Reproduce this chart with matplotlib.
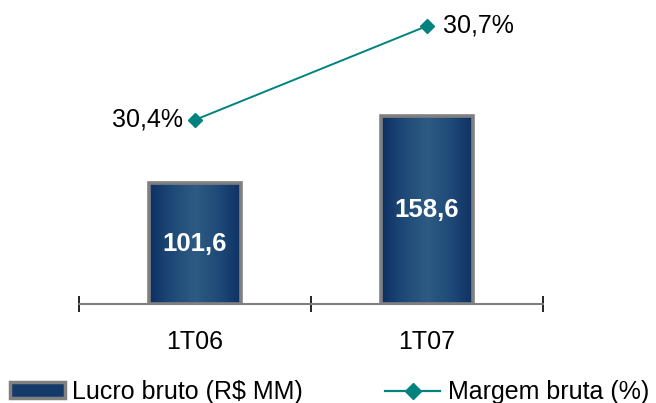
import numpy as np
import matplotlib
matplotlib.use('Agg')
import matplotlib.pyplot as plt
from matplotlib.colors import LinearSegmentedColormap
from matplotlib.patches import Patch
from matplotlib.lines import Line2D

plt.rcParams['font.family'] = ['Liberation Sans', 'DejaVu Sans']

periods = ['1T06', '1T07']
lucro_bruto = [101.6, 158.6]
margem_bruta = [30.4, 30.7]
bar_labels = ['101,6', '158,6']
margem_labels = ['30,4%', '30,7%']

navy_grad = LinearSegmentedColormap.from_list(
    'navy', ['#0c3061', '#1f4a78', '#2d5b83', '#1f4a78', '#0c3061'])
teal = '#00827f'

fig = plt.figure(figsize=(6.56, 4.03), dpi=100)
ax = fig.add_axes([79 / 656, 1 - 304 / 403, 464 / 656, 304 / 403])

x = np.arange(len(periods)) + 0.5
bars = ax.bar(x, lucro_bruto, width=0.4, facecolor='none',
              edgecolor='#808080', linewidth=2.6, zorder=3)

grad = np.linspace(0, 1, 256).reshape(1, -1)
for b in bars:
    x0, y0 = b.get_x(), b.get_y()
    im = ax.imshow(grad, cmap=navy_grad, aspect='auto', zorder=2,
                   extent=[x0, x0 + b.get_width(), y0, y0 + b.get_height()])
    im.set_clip_path(b)

for xi, v, lab in zip(x, lucro_bruto, bar_labels):
    ax.text(xi, v / 2, lab, ha='center', va='center', color='white',
            fontsize=18.5, fontweight='bold', zorder=5)

ax.set_xlim(0, 2)
ax.set_ylim(0, 256)
ax.set_yticks([])
for s in ['top', 'right', 'left']:
    ax.spines[s].set_visible(False)
ax.spines['bottom'].set_color('#808080')
ax.spines['bottom'].set_linewidth(1.5)
ax.set_xticks([0, 1, 2])
ax.set_xticklabels([])
ax.tick_params(axis='x', which='major', direction='inout', length=12,
               width=1.2, color='black')
ax.set_xticks(x, minor=True)
ax.set_xticklabels(periods, minor=True, fontsize=18)
ax.tick_params(axis='x', which='minor', length=0, pad=19)
ax.patch.set_visible(False)

ax2 = ax.twinx()
ax2.plot(x, margem_bruta, color=teal, linewidth=1.4, marker='D',
         markersize=7, zorder=4)
ax2.set_ylim(29.812, 30.783)
ax2.axis('off')
ax2.text(x[0] - 0.05, margem_bruta[0], margem_labels[0], ha='right',
         va='center', fontsize=18)
ax2.text(x[1] + 0.07, margem_bruta[1], margem_labels[1], ha='left',
         va='center', fontsize=18)

bar_handle = Patch(facecolor='#143a6a', edgecolor='#808080', linewidth=2.5)
line_handle = Line2D([0], [0], color=teal, linewidth=1.6, marker='D',
                     markersize=8)
leg_kw = dict(loc='center left', frameon=False, fontsize=18,
              handlelength=2.2, handleheight=0.6, handletextpad=0.3,
              borderpad=0, borderaxespad=0)
fig.legend([bar_handle], ['Lucro bruto (R$ MM)'],
           bbox_to_anchor=(10 / 656, 1 - 392 / 403), **leg_kw)
fig.legend([line_handle], ['Margem bruta (%)'],
           bbox_to_anchor=(385 / 656, 1 - 392 / 403), **leg_kw)

fig.savefig('out.png', dpi=100)
